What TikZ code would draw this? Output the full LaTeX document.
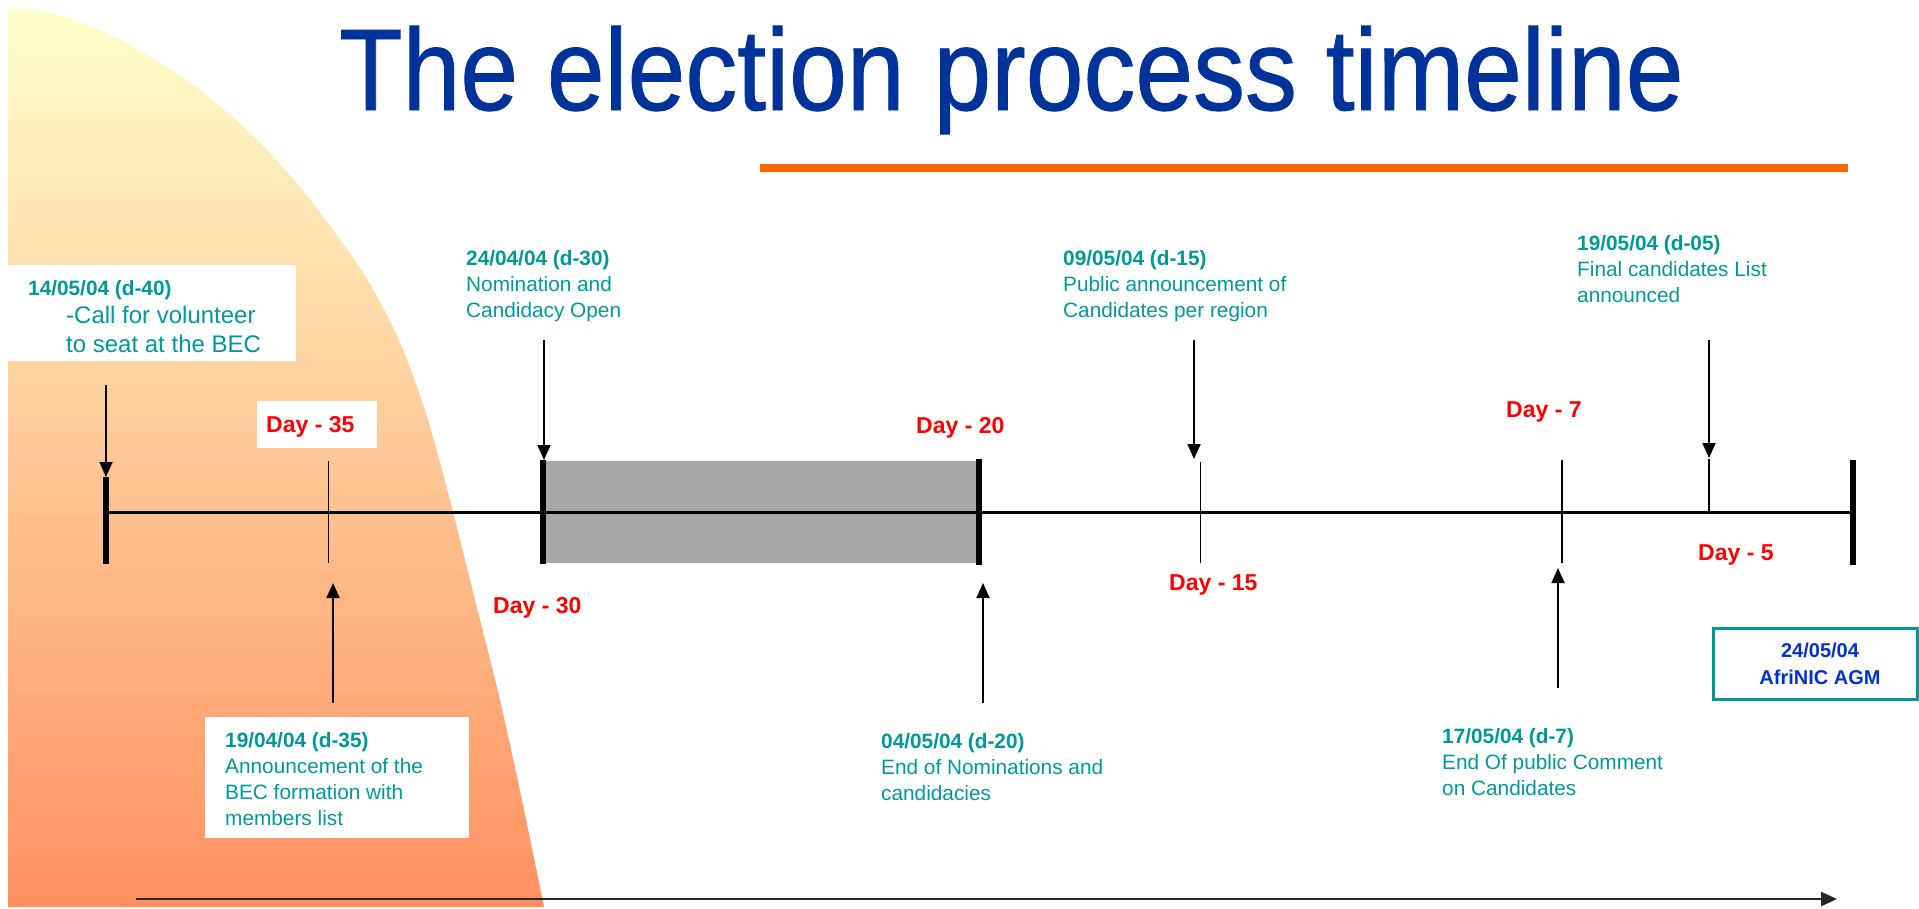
\documentclass[tikz,border=0pt]{standalone}
\usepackage{fontspec}
\usepackage{graphicx}
\setmainfont{Liberation Sans}
\newfontfamily\titlefont[FakeBold=0.8]{Liberation Sans}
\usetikzlibrary{arrows.meta}
\definecolor{tealtxt}{RGB}{0,153,153}
\definecolor{titleblue}{RGB}{0,51,153}
\definecolor{agmblue}{RGB}{0,51,204}
\definecolor{dayred}{RGB}{255,0,0}
\definecolor{orangeline}{RGB}{255,102,0}
\definecolor{bargray}{RGB}{166,166,166}
\definecolor{shtop}{RGB}{255,255,204}
\definecolor{shmid}{RGB}{255,226,174}
\definecolor{shbot}{RGB}{255,144,96}
\newcommand{\evtxt}[2]{\begin{tabular}[t]{@{}l@{}}\bfseries #1\\ #2\end{tabular}}
\tikzset{
  evt/.style={anchor=base west, inner sep=0pt, text=tealtxt, font=\fontsize{20.8}{26}\selectfont},
  daylbl/.style={anchor=base west, inner sep=0pt, text=dayred, font=\fontsize{23}{28}\selectfont\bfseries},
  arr/.style={line width=1.8pt, -{Triangle[length=15pt,width=13pt]}},
  majortick/.style={line width=6pt},
  minortick/.style={line width=1pt},
  midtick/.style={line width=2pt},
  wbox/.style={fill=white, draw=none, inner sep=0pt, anchor=north west},
}
\begin{document}
\begin{tikzpicture}[x=1pt,y=-1pt]
\useasboundingbox (0,0) rectangle (1919,908);
% background gradient shape
\shade[top color=shtop, middle color=shmid, bottom color=shbot]
  (8,907) -- plot[smooth, tension=0.5] coordinates {(8,9) (33,10) (67,17) (100,30) (133,47) (167,67) (200,90) (233,117) (267,150) (300,187) (333,230) (367,279) (398,338) (425,410) (450,500) (475,600) (500,700) (522,800) (544,907)} -- cycle;
% title
\node[anchor=base west, inner sep=0pt, text=titleblue, font=\fontsize{116}{120}\titlefont] (title) at (339,110) {\scalebox{0.895}[1]{The election process timeline}};
\coordinate (ol1) at (760,168);
\coordinate (ol2) at (1848,168);
\draw[orangeline, line width=8pt] (ol1) -- (ol2);
% white boxes
\node[wbox, minimum width=289pt, minimum height=96pt] (box40) at (7,265) {};
\node[wbox, minimum width=120pt, minimum height=47pt] (box35) at (257,401) {};
\node[wbox, minimum width=264pt, minimum height=121pt] (box35b) at (205,717) {};
% grey bar
\node[fill=bargray, inner sep=0pt, anchor=north west, minimum width=436pt, minimum height=102pt] (bar) at (543,461) {};
% timeline
\coordinate (tl0) at (106,512);
\coordinate (tl1) at (1853,512);
\draw[line width=3pt] (tl0) -- (tl1);
% ticks
\coordinate (k40a) at (106,477); \coordinate (k40b) at (106,564);
\coordinate (k35a) at (328,461); \coordinate (k35b) at (328,563);
\coordinate (k30a) at (543,460); \coordinate (k30b) at (543,564);
\coordinate (k20a) at (979,459); \coordinate (k20b) at (979,565);
\coordinate (k15a) at (1200,462); \coordinate (k15b) at (1200,563);
\coordinate (k7a) at (1562,460); \coordinate (k7b) at (1562,563);
\coordinate (k5a) at (1709,459); \coordinate (k5b) at (1709,512);
\coordinate (k0a) at (1853,460); \coordinate (k0b) at (1853,565);
\draw[majortick] (k40a) -- (k40b);
\draw[minortick] (k35a) -- (k35b);
\draw[majortick] (k30a) -- (k30b);
\draw[majortick] (k20a) -- (k20b);
\draw[minortick] (k15a) -- (k15b);
\draw[midtick] (k7a) -- (k7b);
\draw[midtick] (k5a) -- (k5b);
\draw[majortick] (k0a) -- (k0b);
% arrows
\coordinate (a40s) at (106,385); \coordinate (a40e) at (106,477);
\coordinate (a30s) at (544,340); \coordinate (a30e) at (544,460);
\coordinate (a15s) at (1194,340); \coordinate (a15e) at (1194,459);
\coordinate (a5s) at (1709,340); \coordinate (a5e) at (1709,458);
\coordinate (a35s) at (333,703); \coordinate (a35e) at (333,583);
\coordinate (a20s) at (983,703); \coordinate (a20e) at (983,583);
\coordinate (a7s) at (1558,688); \coordinate (a7e) at (1558,568);
\draw[arr] (a40s) -- (a40e);
\draw[arr] (a30s) -- (a30e);
\draw[arr] (a15s) -- (a15e);
\draw[arr] (a5s) -- (a5e);
\draw[arr] (a35s) -- (a35e);
\draw[arr] (a20s) -- (a20e);
\draw[arr] (a7s) -- (a7e);
% bottom arrow
\coordinate (ba0) at (136,899);
\coordinate (ba1) at (1837,899);
\draw[line width=2.5pt, black!85, -{Triangle[length=16pt,width=14pt]}] (ba0) -- (ba1);
% event texts
\node[evt, font=\fontsize{20.8}{28.5}\selectfont] (e40) at (28,295) {\begin{tabular}[t]{@{}l@{}}\bfseries 14/05/04 (d-40)\\ \hspace*{38pt}\fontsize{24}{28.5}\selectfont -Call for volunteer\\ \hspace*{38pt}\fontsize{24}{28.5}\selectfont to seat at the BEC\end{tabular}};
\node[evt] (e30) at (466,265) {\evtxt{24/04/04 (d-30)}{Nomination and\\ Candidacy Open}};
\node[evt] (e15) at (1063,265) {\evtxt{09/05/04 (d-15)}{Public announcement of\\ Candidates per region}};
\node[evt] (e5) at (1577,250) {\evtxt{19/05/04 (d-05)}{Final candidates List\\ announced}};
\node[evt] (e35) at (225,747) {\evtxt{19/04/04 (d-35)}{Announcement of the\\ BEC formation with\\ members list}};
\node[evt] (e20) at (881,748) {\evtxt{04/05/04 (d-20)}{End of Nominations and\\ candidacies}};
\node[evt] (e7) at (1442,743) {\evtxt{17/05/04 (d-7)}{End Of public Comment\\ on Candidates}};
% day labels
\node[daylbl] (d35) at (266,432) {Day - 35};
\node[daylbl] (d20) at (916,433) {Day - 20};
\node[daylbl] (d7) at (1506,417) {Day - 7};
\node[daylbl] (d30) at (493,613) {Day - 30};
\node[daylbl] (d15) at (1169,590) {Day - 15};
\node[daylbl] (d5) at (1698,560) {Day - 5};
% AGM box
\node[draw=tealtxt, line width=3pt, fill=white, inner sep=0pt, minimum width=204pt, minimum height=71pt] (agm) at (1815,663.5) {};
\node[anchor=base, inner sep=0pt, text=agmblue, font=\fontsize{20}{27}\selectfont\bfseries] (agmtxt) at (1820,657) {\begin{tabular}[t]{@{}c@{}}24/05/04\\AfriNIC AGM\end{tabular}};
\end{tikzpicture}
\end{document}
